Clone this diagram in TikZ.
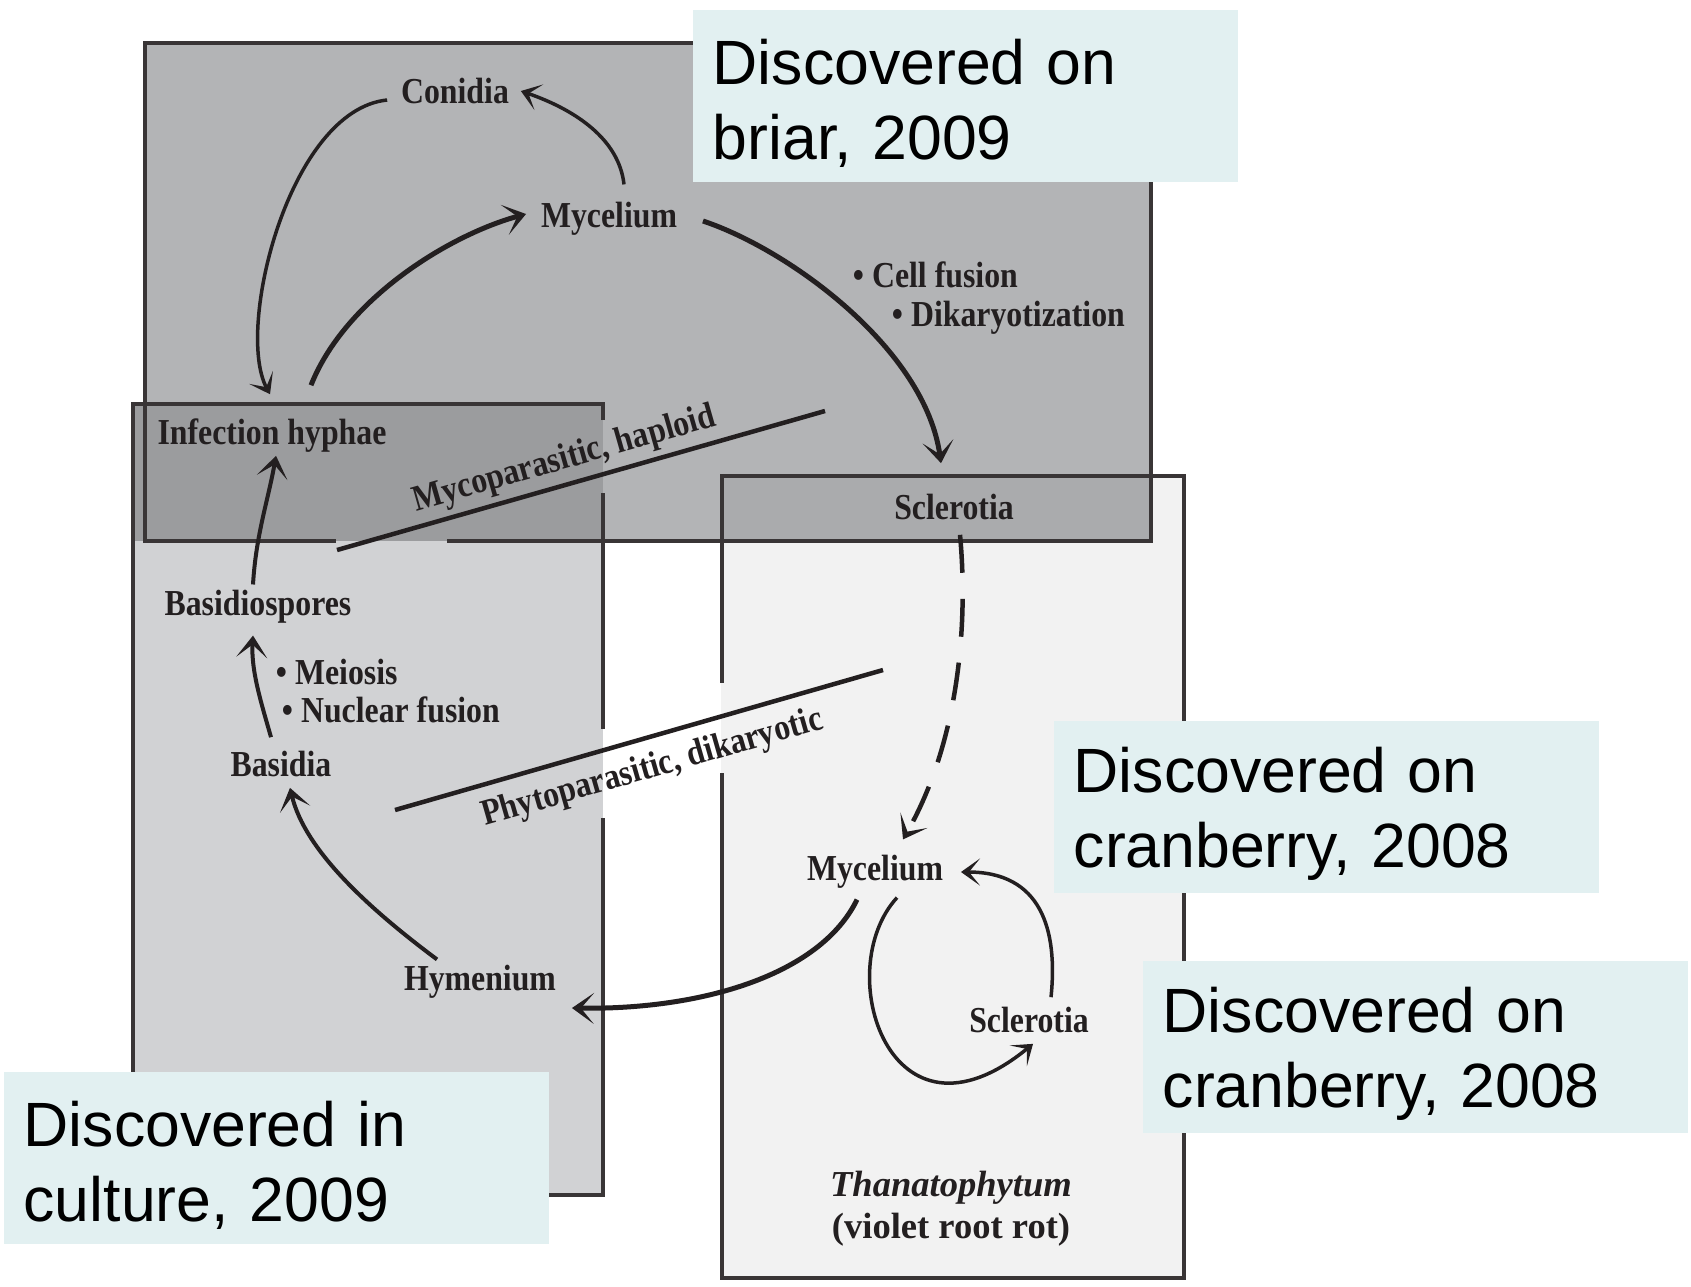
\documentclass[tikz,border=0pt]{standalone}
\usepackage{fontspec}
\newfontfamily\figfont[FakeStretch=0.87]{Liberation Serif}
\newfontfamily\figitfont{Liberation Serif}
\newfontfamily\notefont{Liberation Sans}
\usetikzlibrary{arrows.meta}
\definecolor{hostink}{HTML}{231F20}
\definecolor{briargray}{HTML}{B3B4B6}
\definecolor{culturegray}{HTML}{D1D2D4}
\definecolor{cranbgray}{HTML}{F2F2F2}
\definecolor{briarculture}{HTML}{9B9C9E}
\definecolor{briarcranb}{HTML}{AAABAD}
\definecolor{findcyan}{HTML}{E2F0F1}
\tikzset{
  cyclab/.style={font=\figfont\bfseries\fontsize{10.4}{12}\selectfont, text=hostink,
    inner sep=1.5pt},
  stepnote/.style={cyclab, anchor=west},
  sporeflow/.style={-{Stealth[length=1.9mm, width=2.7mm, inset=1.1mm]}, line width=0.35mm,
    draw=hostink},
  sporethick/.style={-{Stealth[length=2.2mm, width=3.1mm, inset=1.3mm]}, line width=0.5mm,
    draw=hostink},
  splitline/.style={line width=0.45mm, draw=hostink},
  hostframe/.style={line width=0.35mm, draw=hostink!90},
  findbox/.style={fill=findcyan, anchor=north west, minimum width=54.5mm,
    minimum height=17.2mm, text width=50.5mm, text height=6mm, align=left, inner xsep=2mm,
    font=\notefont\fontsize{17.8}{21.3}\selectfont},
}
\begin{document}
\begin{tikzpicture}[x=0.1mm, y=-0.1mm]
\useasboundingbox (0,0) rectangle (1691,1286);
\fill[white] (0,0) rectangle (1691,1286);
% host panels, briar on top of culture and cranberry
\fill[culturegray] (133,404) rectangle (603,1195);
\fill[cranbgray] (721,476) rectangle (1184,1278);
\fill[briargray] (145,43) rectangle (1151,541);
\fill[briarculture] (133,404) rectangle (603,541);
\fill[briarcranb] (721,476) rectangle (1151,541);
\draw[hostframe, line width=0.4mm] (447,541) -- (1151,541) -- (1151,43) -- (145,43) -- (145,541) -- (336,541);
\draw[hostframe] (603,420) -- (603,404) -- (133,404) -- (133,1195) -- (603,1195) -- (603,818);
\draw[hostframe] (603,493) -- (603,729);
\draw[hostframe] (722,683) -- (722,476) -- (1184,476) -- (1184,1278) -- (722,1278) -- (722,773);
% life cycle stages
\node[cyclab] (conidia) at (455,91) {Conidia};
\node[cyclab] (myctop) at (609,219) {Mycelium};
\node[stepnote] (cellfus) at (847,275) {\textbullet\ Cell fusion};
\node[stepnote] (dikar) at (886,318) {\textbullet\ Dikaryotization};
\node[cyclab] (infect) at (272,436) {Infection hyphae};
\node[cyclab] (sclertop) at (954,507) {Sclerotia};
\node[cyclab] (basidiosp) at (258,607) {Basidiospores};
\node[stepnote] (meiosis) at (270,672) {\textbullet\ Meiosis};
\node[stepnote] (nucfus) at (276,710) {\textbullet\ Nuclear fusion};
\node[cyclab] (basidia) at (281,764) {Basidia};
\node[cyclab] (hymen) at (480,982) {Hymenium};
\node[cyclab] (mycbot) at (875,872) {Mycelium};
\node[cyclab] (sclerbot) at (1029,1020) {Sclerotia};
\node[cyclab, font=\figitfont\bfseries\fontsize{10.4}{12}\selectfont, align=center] (thanato) at (951,1209)
  {\textit{Thanatophytum}\\(violet root rot)};
% haploid / dikaryotic split
\coordinate (mycoA) at (337,550);
\coordinate (mycoB) at (825,411);
\draw[splitline] (mycoA) -- node[cyclab, sloped, above, pos=0.48] (mycolab) {Mycoparasitic, haploid} (mycoB);
\coordinate (phytoA) at (395,810);
\coordinate (phytoB) at (883,670);
\draw[splitline] (phytoA) -- node[cyclab, sloped, below, pos=0.51, yshift=-2pt] (phytolab) {Phytoparasitic, dikaryotic} (phytoB);
% cycle arrows
\draw[sporeflow] ([shift={(15,-12)}]myctop.north) .. controls +(-5,-45) and +(55,19) .. ([shift={(6,0)}]conidia.east);
\draw[sporeflow] ([shift={(-8,9)}]conidia.west) .. controls +(-98,10) and +(-35,-65) .. ([shift={(-2,-19)}]infect.north);
\draw[sporethick] ([shift={(39,-28)}]infect.north) .. controls +(34,-86) and +(-77,21) .. ([shift={(-9,-5)}]myctop.west);
\draw[sporethick] ([shift={(20,2)}]myctop.east) .. controls +(87,29) and +(-16,-114) .. ([shift={(-13,-25)}]sclertop.north);
\draw[sporethick, line width=0.4mm] ([shift={(-5,0)}]basidiosp.north) .. controls +(3,-50) and +(-8,45) .. ([shift={(4,-3)}]infect.south);
\draw[sporethick, line width=0.4mm] ([shift={(-10,-8)}]basidia.north) .. controls +(-10,-35) and +(-2,35) .. ([shift={(-5,6)}]basidiosp.south);
\draw[sporethick, line width=0.4mm] ([shift={(-43,0)}]hymen.north) .. controls +(-67,-50) and +(15,63) .. ([shift={(9,5)}]basidia.south);
\draw[sporethick] ([shift={(-18,5)}]mycbot.south) .. controls +(-37,76) and +(128,2) .. ([shift={(10,26)}]hymen.east);
\draw[sporethick, line width=0.45mm, dash pattern=on 3.8mm off 2.6mm] ([shift={(6,9)}]sclertop.south) .. controls +(8,86) and +(57,-100) .. ([shift={(28,-10)}]mycbot.north);
\draw[sporeflow] ([shift={(22,3)}]mycbot.south) .. controls +(-67,73) and +(-143,117) .. ([shift={(4,5)}]sclerbot.south);
\draw[sporeflow] ([shift={(22,-4)}]sclerbot.north) .. controls +(7,-68) and +(80,0) .. ([shift={(12,0)}]mycbot.east);
% where each stage was found
\node[findbox] (briar) at (692,9) {Discovered on\\briar, 2009};
\node[findbox] (cranbA) at (1053,720) {Discovered on\\cranberry, 2008};
\node[findbox] (cranbB) at (1142,960) {Discovered on\\cranberry, 2008};
\node[findbox] (culture) at (3,1071) {Discovered in\\culture, 2009};
\end{tikzpicture}
\end{document}
